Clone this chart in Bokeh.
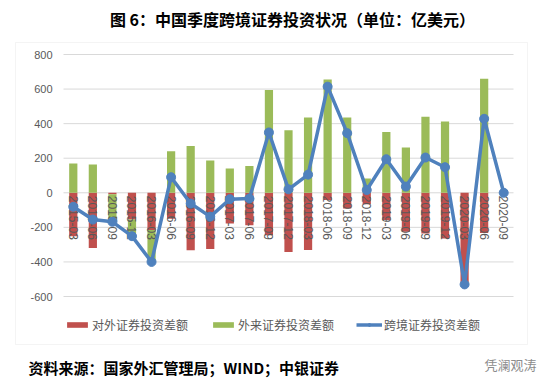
import numpy as np
from bokeh.plotting import figure
from bokeh.models import (ColumnDataSource, Range1d, Label, BoxAnnotation, Legend, LegendItem)
from bokeh.core.properties import value
from bokeh.embed import file_html
from bokeh.resources import INLINE

quarters = ["2015-03", "2015-06", "2015-09", "2015-12", "2016-03", "2016-06", "2016-09", "2016-12",
            "2017-03", "2017-06", "2017-09", "2017-12", "2018-03", "2018-06", "2018-09", "2018-12",
            "2019-03", "2019-06", "2019-09", "2019-12", "2020-03", "2020-06", "2020-09"]
outward = [-251, -319, -8, -155, -216, -150, -332, -325, -178, -188, -245, -342,
           -331, -42, -91, -66, -158, -226, -236, -265, -517, -232, 0]
inward = [170, 164, -160, -96, -184, 240, 270, 187, 141, 155, 594, 362,
          436, 656, 436, 82, 352, 262, 440, 413, -13, 660, 0]
net = [-81, -155, -168, -251, -400, 90, -62, -138, -37, -33, 349, 20,
       105, 614, 345, 16, 194, 36, 204, 148, -530, 428, 0]
y_ticks = [-600, -400, -200, 0, 200, 400, 600, 800]
y_tick_labels = ["-600", "-400", "-200", "0", "200", "400", "600", "800"]

title_text = "图 6：中国季度跨境证券投资状况（单位：亿美元）"
source_text = "资料来源：国家外汇管理局；WIND；中银证券"
mark_text = "凭澜观涛"
series_names = ["对外证券投资差额", "外来证券投资差额", "跨境证券投资差额"]

# ---- layout (pixels on the canvas) ----
W, H = 546, 384
PLOT_L, PLOT_R = 63, 513          # plot area (gridline extent)
PLOT_T, PLOT_B = 54, 296          # y of top tick (800) and bottom tick (-600)
n = len(quarters)
step = (PLOT_R - PLOT_L) / n
first_c = PLOT_L + step / 2
ymin, ymax = y_ticks[0], y_ticks[-1]
upp = (ymax - ymin) / (PLOT_B - PLOT_T)      # data units per pixel
y_start = ymin - (H - PLOT_B) * upp
y_end = ymax + PLOT_T * upp
x_start = -first_c / step
x_end = (W - first_c) / step

# Excel-style stacking: positives on positives, negatives on negatives
o = np.array(outward, dtype=float)
i_ = np.array(inward, dtype=float)
red_bottom = np.zeros_like(o)
red_top = o
green_bottom = np.where(i_ >= 0, np.maximum(o, 0), np.minimum(o, 0))
green_top = green_bottom + i_
xs = np.arange(n)

src = ColumnDataSource(dict(x=xs, q=quarters, rb=red_bottom, rt=red_top, gb=green_bottom, gt=green_top,
                            net=net, zero=[0] * n))
grid_src = ColumnDataSource(dict(y=y_ticks, lab=y_tick_labels, x0=[-0.5] * len(y_ticks),
                                 x1=[n - 0.5] * len(y_ticks)))

CJK = "Noto Sans CJK SC"
GRAY = "#595959"

p = figure(width=W, height=H, x_range=Range1d(x_start, x_end), y_range=Range1d(y_start, y_end),
           output_backend="svg", toolbar_location=None,
           min_border_left=0, min_border_right=0, min_border_top=0, min_border_bottom=0)
p.outline_line_color = None
p.xaxis.visible = False
p.yaxis.visible = False
p.grid.visible = False

box = BoxAnnotation(left=15, right=527, top=42, bottom=344,
                    left_units="canvas", right_units="canvas", top_units="canvas", bottom_units="canvas",
                    fill_color=None, line_color="#d9d9d9", line_width=1, level="underlay")
p.add_layout(box)

# gridlines and y tick labels
p.segment(x0="x0", x1="x1", y0="y", y1="y", line_color="#d9d9d9", line_width=1, source=grid_src)
p.text(x="x0", y="y", text="lab", x_offset=-11, text_align="right", text_baseline="middle",
       text_font=value("Liberation Sans"), text_font_size="11px", text_color=GRAY, source=grid_src)

r_red = p.vbar(x="x", bottom="rb", top="rt", width=0.42, fill_color="#c0504d", line_color=None, source=src)
r_green = p.vbar(x="x", bottom="gb", top="gt", width=0.42, fill_color="#9bbb59", line_color=None, source=src)

# category labels along the zero line
p.text(x="x", y="zero", text="q", angle=-np.pi / 2, text_align="left", text_baseline="middle",
       y_offset=3, text_font=value("Liberation Sans"), text_font_size="12px", text_color=GRAY, source=src)

r_line = p.line(x="x", y="net", line_color="#4f81bd", line_width=3.5, source=src)
r_pts = p.scatter(x="x", y="net", size=9, fill_color="#4f81bd", line_color="#4f81bd", source=src)

legend = Legend(items=[LegendItem(label=series_names[0], renderers=[r_red]),
                       LegendItem(label=series_names[1], renderers=[r_green]),
                       LegendItem(label=series_names[2], renderers=[r_line, r_pts])],
                orientation="horizontal", location=(64, H - 334), padding=0, margin=0, spacing=22,
                glyph_width=26, glyph_height=7, label_standoff=2, label_height=20,
                label_text_font=CJK, label_text_font_size="12px", label_text_color=GRAY,
                border_line_color=None, background_fill_alpha=0)
p.add_layout(legend)

p.add_layout(Label(x=292, y=18, x_units="canvas", y_units="canvas", text=title_text,
                   text_align="center", text_baseline="middle", text_font=CJK, text_font_style="bold",
                   text_font_size="16px", text_color="#000000"))
p.add_layout(Label(x=28, y=367, x_units="canvas", y_units="canvas", text=source_text,
                   text_align="left", text_baseline="middle", text_font=CJK, text_font_style="bold",
                   text_font_size="15px", text_color="#000000"))
p.add_layout(Label(x=484, y=364, x_units="canvas", y_units="canvas", text=mark_text,
                   text_align="left", text_baseline="middle", text_font=CJK,
                   text_font_size="13px", text_color="#8c8c8c"))

open("out.html", "w").write(file_html(p, INLINE))
